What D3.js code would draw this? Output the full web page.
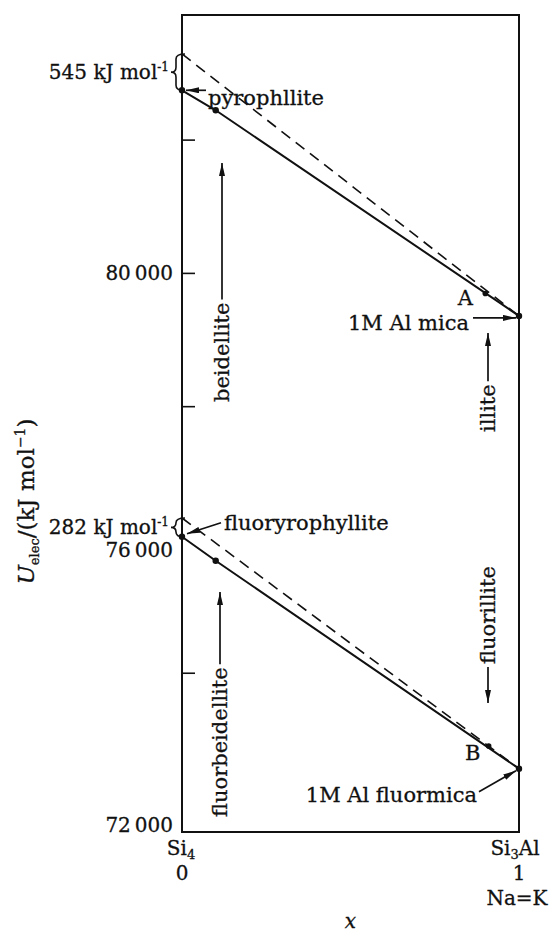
<!DOCTYPE html>
<html>
<head>
<meta charset="utf-8">
<script src="https://cdn.jsdelivr.net/npm/d3@7"></script>
<style>
  body { margin: 0; background: #fff; }
  svg text { font-family: 'DejaVu Serif', serif; fill: #111; stroke: #111; stroke-width: 0.3px; }
</style>
</head>
<body>
<svg id="chart" width="549" height="936"></svg>
<script>
// composition x : Si4 (0) -> Si3Al (1)
const compX = [0, 0.1, 1];
// electrostatic energy U_elec, kJ/mol
const hydroxyU = [82740, 82440, 79355];
const fluoroU = [76040, 75680, 72560];
// offsets of the dashed lines at x = 0 (kJ/mol)
const gapU = [545, 282];
const gapLabels = ['545', '282'];
const pointA = { x: 0.9, u: 79690 };
const pointB = { x: 0.91, u: 72900 };
const yTicks = [74000, 78000, 80000, 82000];
const yLabels = [72000, 76000, 80000];
const uRange = [71610, 83870];

const width = 549;
const height = 936;
const margin = { top: 15, right: 30, bottom: 104, left: 182 };

const svg = d3.select('#chart');

const x = d3.scaleLinear().domain([0, 1]).range([margin.left, width - margin.right]);
const y = d3.scaleLinear().domain(uRange).range([height - margin.bottom, margin.top]);

const ink = '#111';

svg.append('defs').append('marker')
  .attr('id', 'arr')
  .attr('viewBox', '0 0 13 6')
  .attr('refX', 13)
  .attr('refY', 3)
  .attr('markerWidth', 13)
  .attr('markerHeight', 6)
  .attr('markerUnits', 'userSpaceOnUse')
  .attr('orient', 'auto')
  .append('path')
  .attr('d', 'M0,0 L13,3 L0,6 Z')
  .attr('fill', ink);

// frame
svg.append('rect')
  .attr('x', x(0))
  .attr('y', y(uRange[1]))
  .attr('width', x(1) - x(0))
  .attr('height', y(uRange[0]) - y(uRange[1]))
  .attr('fill', 'none')
  .attr('stroke', ink)
  .attr('stroke-width', 2);

// inward ticks
const yAxis = d3.axisRight(y).tickValues(yTicks).tickSize(13).tickFormat('');
svg.append('g')
  .attr('transform', `translate(${x(0)},0)`)
  .call(yAxis)
  .call((g) => g.select('.domain').remove())
  .selectAll('line')
  .attr('stroke', ink)
  .attr('stroke-width', 1.6);

const fmt = (v) => d3.format(',')(v).replace(',', '\u2009');
const labelShift = { 72000: -7, 76000: 11, 80000: 0 };
svg.append('g')
  .selectAll('text')
  .data(yLabels)
  .join('text')
  .attr('x', x(0) - 9)
  .attr('y', (d) => (d === yLabels[0] ? y(uRange[0]) : y(d)) + labelShift[d])
  .attr('dy', '0.35em')
  .attr('text-anchor', 'end')
  .style('font-size', '20px')
  .text(fmt);

// y axis title
const yTitle = svg.append('text')
  .attr('transform', `translate(34,${(y(uRange[0]) + y(uRange[1])) / 2 + 78}) rotate(-90)`)
  .attr('text-anchor', 'middle')
  .style('font-size', '23px');
yTitle.append('tspan').style('font-style', 'italic').text('U');
yTitle.append('tspan').attr('dy', 5).style('font-size', '13px').text('elec');
yTitle.append('tspan').attr('dy', -5).text('/(kJ mol');
yTitle.append('tspan').attr('dy', -9).style('font-size', '14px').text('\u22121');
yTitle.append('tspan').attr('dy', 9).text(')');

// series
const series = [hydroxyU, fluoroU];
const line = d3.line().x((d) => x(d[0])).y((d) => y(d[1]));

series.forEach((vals, i) => {
  const pts = compX.map((cx, j) => [cx, vals[j]]);
  svg.append('path')
    .attr('d', line(pts))
    .attr('fill', 'none')
    .attr('stroke', ink)
    .attr('stroke-width', 2);

  svg.append('path')
    .attr('d', line([[0, vals[0] + gapU[i]], [1, vals[vals.length - 1]]]))
    .attr('fill', 'none')
    .attr('stroke', ink)
    .attr('stroke-width', 1.6)
    .attr('stroke-dasharray', '11 7');

  svg.selectAll(null)
    .data(pts)
    .join('circle')
    .attr('cx', (d) => x(d[0]))
    .attr('cy', (d) => y(d[1]))
    .attr('r', 3.2)
    .attr('fill', ink);

  // curly brace showing the gap
  const x0 = x(0);
  const yt = y(vals[0] + gapU[i]);
  const yb = y(vals[0]);
  const ym = (yt + yb) / 2;
  const r = Math.min(5, (yb - yt) / 4);
  svg.append('path')
    .attr('d', `M${x0 + 3},${yt} Q${x0 - 6},${yt} ${x0 - 6},${yt + r} L${x0 - 6},${ym - r}
      Q${x0 - 6},${ym} ${x0 - 11},${ym} Q${x0 - 6},${ym} ${x0 - 6},${ym + r}
      L${x0 - 6},${yb - r} Q${x0 - 6},${yb} ${x0 + 1},${yb}`)
    .attr('fill', 'none')
    .attr('stroke', ink)
    .attr('stroke-width', 1.6);

  const gl = svg.append('text')
    .attr('x', x0 - 13)
    .attr('y', ym)
    .attr('dy', '0.35em')
    .attr('text-anchor', 'end')
    .style('font-size', '20px');
  gl.append('tspan').text(gapLabels[i] + ' kJ mol');
  gl.append('tspan').attr('dy', -8).style('font-size', '12px').text('-1');
});

// points A and B
[pointA, pointB].forEach((p) => {
  svg.append('circle')
    .attr('cx', x(p.x))
    .attr('cy', y(p.u))
    .attr('r', 2.8)
    .attr('fill', ink);
});

function arrow(x1, y1, x2, y2) {
  svg.append('line')
    .attr('x1', x1).attr('y1', y1)
    .attr('x2', x2).attr('y2', y2)
    .attr('stroke', ink)
    .attr('stroke-width', 1.7)
    .attr('marker-end', 'url(#arr)');
}

function label(txt, tx, ty, anchor) {
  return svg.append('text')
    .attr('x', tx)
    .attr('y', ty)
    .attr('dy', '0.35em')
    .attr('text-anchor', anchor || 'start')
    .style('font-size', '21px')
    .text(txt);
}

// pyrophyllite
label('pyrophllite', x(0) + 26, y(hydroxyU[0]) + 7);
arrow(x(0) + 24, y(hydroxyU[0]), x(0) + 4, y(hydroxyU[0]));

// 1M Al mica
label('1M Al mica', x(1) - 50, y(hydroxyU[2]) + 7, 'end');
arrow(x(1) - 46, y(hydroxyU[2]) + 2, x(1) - 3, y(hydroxyU[2]) + 2);
label('A', x(pointA.x) - 20, y(pointA.u) + 4, 'middle');

// fluorpyrophyllite
label('fluoryrophyllite', x(0) + 42, y(fluoroU[0]) - 14);
arrow(x(0) + 39, y(fluoroU[0]) - 14, x(0) + 5, y(fluoroU[0]) - 3);

// 1M Al fluormica
label('1M Al fluormica', x(1) - 42, y(fluoroU[2]) + 26, 'end');
arrow(x(1) - 40, y(fluoroU[2]) + 23, x(1) - 3, y(fluoroU[2]) + 2);
label('B', x(pointB.x) - 16, y(pointB.u) + 7, 'middle');

// vertical labels with arrows
function vlabel(txt, bx, yStart, tipY) {
  const t = svg.append('text')
    .attr('transform', `translate(${bx},${yStart}) rotate(-90)`)
    .style('font-size', '21px')
    .text(txt);
  const len = t.node().getComputedTextLength();
  const lx = bx - 7;
  if (tipY < yStart - len) {
    arrow(lx, yStart - len - 3, lx, tipY);
  } else {
    arrow(lx, yStart + 3, lx, tipY);
  }
}

vlabel('beidellite', x(0) + 47, 402, 163);
vlabel('fluorbeidellite', x(0) + 45, 817, 592);
vlabel('illite', x(1) - 24, 432, 333);
vlabel('fluorillite', x(1) - 24, 664, 703);

// x axis labels
const xl = svg.append('g').style('font-size', '20px');
const si4 = xl.append('text').attr('x', x(0) - 1).attr('y', 855).attr('text-anchor', 'middle');
si4.append('tspan').text('Si');
si4.append('tspan').attr('dy', 4).style('font-size', '13px').text('4');
xl.append('text').attr('x', x(0)).attr('y', 880).attr('text-anchor', 'middle').text('0');

const si3 = xl.append('text').attr('x', x(1) - 4).attr('y', 855).attr('text-anchor', 'middle');
si3.append('tspan').text('Si');
si3.append('tspan').attr('dy', 4).style('font-size', '13px').text('3');
si3.append('tspan').attr('dy', -4).text('Al');
xl.append('text').attr('x', x(1)).attr('y', 880).attr('text-anchor', 'middle').text('1');
xl.append('text').attr('x', x(1) - 2).attr('y', 905).attr('text-anchor', 'middle').text('Na=K');

svg.append('text')
  .attr('x', (x(0) + x(1)) / 2)
  .attr('y', 928)
  .attr('text-anchor', 'middle')
  .style('font-size', '20px')
  .style('font-style', 'italic')
  .text('x');
</script>
</body>
</html>
